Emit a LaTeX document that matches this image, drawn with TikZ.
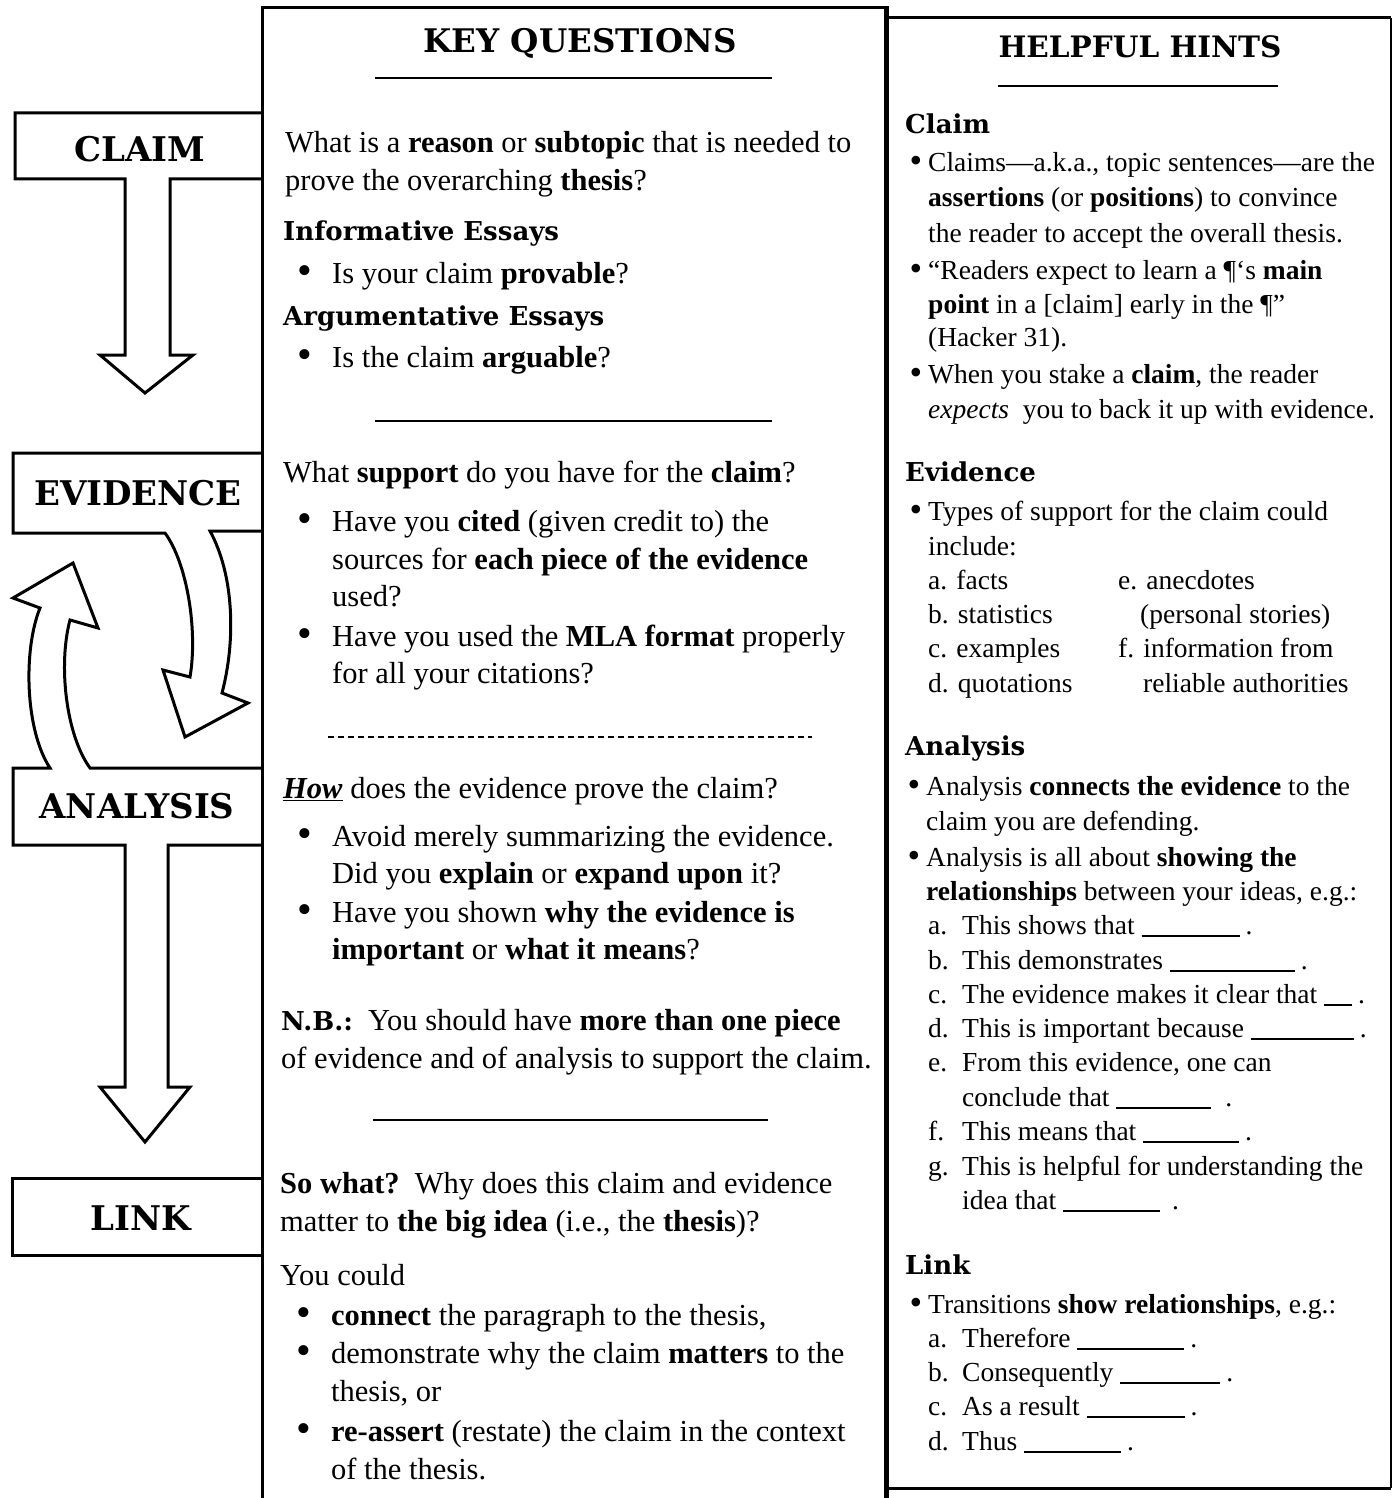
\documentclass[tikz,border=0pt]{standalone}
\usepackage{fontspec}
\setmainfont{Liberation Serif}
\newfontfamily\slabfont{DejaVu Serif}
\usetikzlibrary{arrows.meta}
\tikzset{>=Latex}

\newcommand\midsize{\fontsize{30.5}{37.5}\selectfont}
\newcommand\hintsize{\fontsize{27.5}{34.5}\selectfont}
\newcommand\hd[1]{{\slabfont\bfseries\fontsize{26}{30}\selectfont #1}}
\newcommand\bul{\llap{{\fontsize{42}{30}\selectfont\raisebox{-1.5pt}{\textbullet}}\hspace{20pt}}}
\newcommand\hbul{\llap{{\fontsize{36}{30}\selectfont\raisebox{-1pt}{\textbullet}}\hspace{6pt}}}
\newcommand\lbl[1]{\makebox[34pt][l]{#1}}
\newcommand\blank[1]{\rule[-3pt]{#1pt}{2pt}}

\tikzset{
  panel/.style={line width=3pt},
  sign/.style={draw, line width=3pt, fill=white},
  signtext/.style={anchor=base, inner sep=0pt, font=\slabfont\bfseries\fontsize{34}{34}\selectfont},
  title/.style={anchor=base, inner sep=0pt, font=\slabfont\bfseries\fontsize{31}{31}\selectfont},
  mid/.style={anchor=base west, inner sep=0pt, font=\midsize},
  hint/.style={anchor=base west, inner sep=0pt, font=\hintsize},
  sepline/.style={line width=2.5pt}
}

\begin{document}
\begin{tikzpicture}[x=1pt,y=-1pt]
\useasboundingbox (0,0) rectangle (1395,1498);

% signs on the left
\draw[sign] (262,113) -- (15,113) -- (15,179) -- (125,179) -- (125,355) -- (100,355)
  -- (145,393) -- (193,355) -- (170,355) -- (170,179) -- (262,179);
\draw[sign] (262,453) -- (13,453) -- (13,533) -- (165,533)
  .. controls (187,563) and (198,630) .. (190,677) -- (163,670) -- (185,737)
  -- (248,703) -- (222,693) .. controls (236,640) and (234,575) .. (210,531) -- (262,531);
\draw[sign] (262,768) -- (90,768) .. controls (66,735) and (58,665) .. (70,620)
  -- (98,628) -- (73,563) -- (13,598) -- (40,608)
  .. controls (23,650) and (25,730) .. (50,768) -- (13,768) -- (13,845) -- (125,845)
  -- (125,1087) -- (100,1087) -- (145,1142) -- (190,1087) -- (168,1087) -- (168,845) -- (262,845);
\draw[sign] (262,1178) -- (12,1178) -- (12,1255) -- (262,1255);
\node[signtext] (claim) at (140,162) {CLAIM};
\node[signtext] (evidence) at (138,505) {EVIDENCE};
\node[signtext] (analysis) at (137,818) {ANALYSIS};
\node[signtext] (link) at (141,1230) {LINK};

% panels
\draw[panel] (262,1498) -- (262,8) -- (886,8);
\draw[line width=5pt] (886,6) -- (886,1498);
\draw[panel] (886,18) -- (1391,18);
\draw[panel] (886,1488) -- (1391,1488);
\draw[line width=2pt] (1391,18) -- (1391,1488);

% key questions
\node[title, font=\slabfont\bfseries\fontsize{32.5}{32}\selectfont] (keyq) at (580,53) {KEY QUESTIONS};
\draw[sepline] (375,78) -- (772,78);
\draw[sepline] (375,421) -- (772,421);
\draw[line width=1.5pt, dash pattern=on 6pt off 4pt] (328,737) -- (812,737);
\draw[sepline] (373,1120) -- (768,1120);
\foreach \yy/\xx/\txt [count=\i] in {
  153/285/{What is a \textbf{reason} or \textbf{subtopic} that is needed to},
  190/285/{prove the overarching \textbf{thesis}?},
  240/283/{\hd{Informative Essays}},
  283/332/{\bul Is your claim \textbf{provable}?},
  325/283/{\hd{Argumentative Essays}},
  367/332/{\bul Is the claim \textbf{arguable}?},
  482/283/{What \textbf{support} do you have for the \textbf{claim}?},
  531/332/{\bul Have you \textbf{cited} (given credit to) the},
  569/332/{sources for \textbf{each piece of the evidence}},
  606/332/{used?},
  646/332/{\bul Have you used the \textbf{MLA format} properly},
  683/332/{for all your citations?},
  798/283/{\underline{\textbf{\textit{How}}} does the evidence prove the claim?},
  846/332/{\bul Avoid merely summarizing the evidence.},
  883/332/{Did you \textbf{explain} or \textbf{expand upon} it?},
  922/332/{\bul Have you shown \textbf{why the evidence is}},
  959/332/{\textbf{important} or \textbf{what it means}?},
  1030/281/{\hd{N.B.:}\ \ You should have \textbf{more than one piece}},
  1068/281/{of evidence and of analysis to support the claim.},
  1193/280/{\textbf{So what?}\ \ Why does this claim and evidence},
  1231/280/{matter to \textbf{the big idea} (i.e., the \textbf{thesis})?},
  1285/280/{You could},
  1325/331/{\bul \textbf{connect} the paragraph to the thesis,},
  1363/331/{\bul demonstrate why the claim \textbf{matters} to the},
  1401/331/{thesis, or},
  1441/331/{\bul \textbf{re-assert} (restate) the claim in the context},
  1479/331/{of the thesis.}}
  \node[mid] (kq\i) at (\xx,\yy) {\txt};

% helpful hints
\node[title, font=\slabfont\bfseries\fontsize{29.5}{30}\selectfont] (hints) at (1140,58) {HELPFUL HINTS};
\draw[sepline] (998,86) -- (1278,86);
\foreach \yy/\xx/\txt [count=\i] in {
  134/905/{\hd{Claim}},
  172/928/{\hbul Claims—a.k.a., topic sentences—are the},
  207/928/{\textbf{assertions} (or \textbf{positions}) to convince},
  242/928/{the reader to accept the overall thesis.},
  279/928/{\hbul “Readers expect to learn a ¶‘s \textbf{main}},
  313/928/{\textbf{point} in a [claim] early in the ¶”},
  346/928/{(Hacker 31).},
  383/928/{\hbul When you stake a \textbf{claim}, the reader},
  418/928/{\textit{expects}\ \ you to back it up with evidence.},
  481/905/{\hd{Evidence}},
  520/928/{\hbul Types of support for the claim could},
  555/928/{include:},
  589/928/{a. facts},
  589/1118/{e. anecdotes},
  623/928/{b. statistics},
  623/1140/{(personal stories)},
  657/928/{c. examples},
  657/1118/{f. information from},
  692/928/{d. quotations},
  692/1143/{reliable authorities},
  755/905/{\hd{Analysis}},
  795/926/{\hbul Analysis \textbf{connects the evidence} to the},
  830/926/{claim you are defending.},
  866/926/{\hbul Analysis is all about \textbf{showing the}},
  900/926/{\textbf{relationships} between your ideas, e.g.:},
  934/928/{\lbl{a.}This shows that \blank{98}\hspace{6pt}.},
  969/928/{\lbl{b.}This demonstrates \blank{125}\hspace{6pt}.},
  1003/928/{\lbl{c.}The evidence makes it clear that \blank{28}\hspace{6pt}.},
  1037/928/{\lbl{d.}This is important because \blank{103}\hspace{6pt}.},
  1071/928/{\lbl{e.}From this evidence, one can},
  1106/962/{conclude that \blank{95}\hspace{14pt}.},
  1140/928/{\lbl{f.}This means that \blank{96}\hspace{6pt}.},
  1175/928/{\lbl{g.}This is helpful for understanding the},
  1209/962/{idea that \blank{97}\hspace{12pt}.},
  1274/905/{\hd{Link}},
  1313/928/{\hbul Transitions \textbf{show relationships}, e.g.:},
  1347/928/{\lbl{a.}Therefore \blank{107}\hspace{6pt}.},
  1381/928/{\lbl{b.}Consequently \blank{100}\hspace{6pt}.},
  1415/928/{\lbl{c.}As a result \blank{98}\hspace{6pt}.},
  1450/928/{\lbl{d.}Thus \blank{97}\hspace{6pt}.}}
  \node[hint] (hh\i) at (\xx,\yy) {\txt};
\end{tikzpicture}
\end{document}
